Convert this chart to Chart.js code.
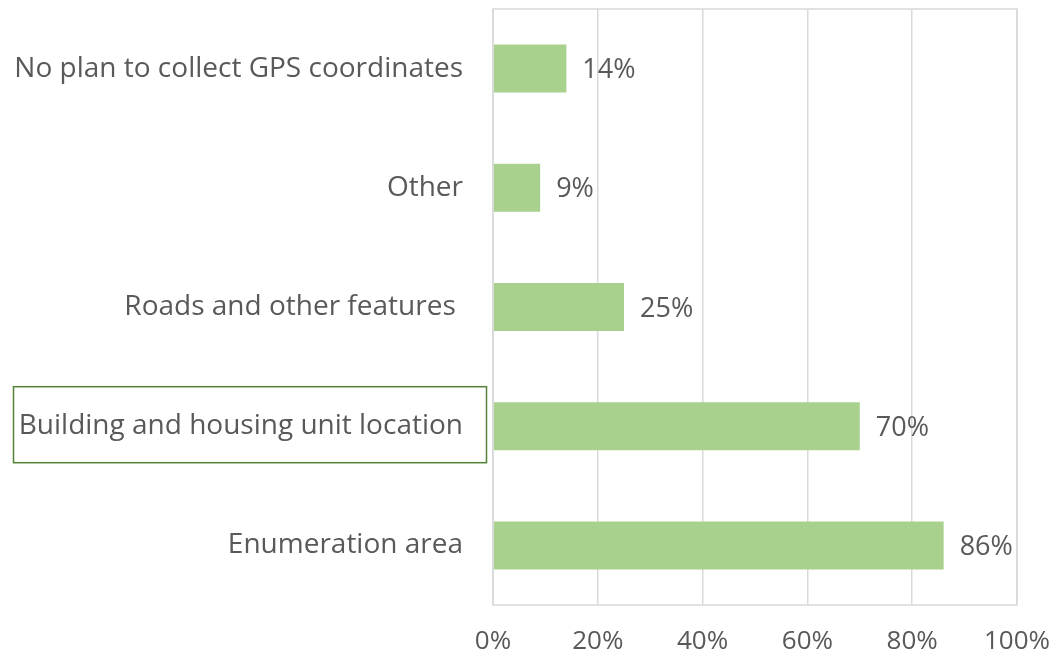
<!DOCTYPE html>
<html>
<head>
<meta charset="utf-8">
<script src="https://cdn.jsdelivr.net/npm/chart.js@4/dist/chart.umd.min.js"></script>
<style>
  html, body { margin: 0; padding: 0; background: #fff; }
  #wrap { width: 1053px; height: 657px; position: relative; }
</style>
</head>
<body>
<div id="wrap"><canvas id="chart"></canvas></div>
<script>
const categories = [
    'No plan to collect GPS coordinates',
    'Other',
    'Roads and other features ',
    'Building and housing unit location',
    'Enumeration area'
];
const shares = [14, 9, 25, 70, 86];
const xTicks = [0, 20, 40, 60, 80, 100];
const boxedCategory = 'Building and housing unit location';

const FONT = "'Open Sans', sans-serif";
const TEXT = '#595959';
const GRID = '#d9d9d9';

// value labels at bar ends
const valueLabels = {
    id: 'valueLabels',
    afterDatasetsDraw(chart) {
        const ctx = chart.ctx;
        const meta = chart.getDatasetMeta(0);
        ctx.save();
        ctx.font = '27px ' + FONT;
        ctx.fillStyle = TEXT;
        ctx.textBaseline = 'middle';
        ctx.textAlign = 'left';
        meta.data.forEach((bar, i) => {
            ctx.fillText(shares[i] + '%', bar.x + 16, bar.y + 2);
        });
        ctx.restore();
    }
};

// frame around plot area + highlighted category label box
const frame = {
    id: 'frame',
    afterDraw(chart) {
        const ctx = chart.ctx;
        const a = chart.chartArea;
        ctx.save();
        ctx.strokeStyle = GRID;
        ctx.lineWidth = 1.5;
        ctx.strokeRect(a.left, a.top, a.right - a.left, a.bottom - a.top);

        const y = chart.scales.y.getPixelForValue(categories.indexOf(boxedCategory));
        ctx.strokeStyle = '#548235';
        ctx.lineWidth = 1.5;
        ctx.strokeRect(13.5, y - 39.5, 473, 76);
        ctx.restore();
    }
};

new Chart(document.getElementById('chart'), {
    type: 'bar',
    data: {
        labels: categories,
        datasets: [{
            data: shares,
            backgroundColor: '#a9d18e',
            borderWidth: 0,
            categoryPercentage: 0.403,
            barPercentage: 1
        }]
    },
    options: {
        indexAxis: 'y',
        responsive: true,
        maintainAspectRatio: false,
        animation: false,
        layout: { padding: { top: 9, right: 36, bottom: 0, left: 0 } },
        plugins: {
            legend: { display: false },
            tooltip: { enabled: false }
        },
        scales: {
            x: {
                min: 0,
                max: 100,
                afterBuildTicks(axis) {
                    axis.ticks = xTicks.map(v => ({ value: v }));
                },
                afterFit(axis) {
                    axis.height = 52;
                    axis.paddingLeft = 0;
                    axis.paddingRight = 0;
                },
                grid: { color: GRID, lineWidth: 1.5, drawTicks: false },
                border: { display: false },
                ticks: {
                    color: TEXT,
                    font: { family: FONT, size: 26 },
                    padding: 21,
                    callback: v => v + '%'
                }
            },
            y: {
                afterFit(axis) {
                    axis.width = 493;
                    axis.paddingTop = 0;
                    axis.paddingBottom = 0;
                },
                grid: { display: false },
                border: { display: false },
                ticks: {
                    color: TEXT,
                    font: { family: FONT, size: 28 },
                    padding: 22
                }
            }
        }
    },
    plugins: [valueLabels, frame]
});
</script>
</body>
</html>
